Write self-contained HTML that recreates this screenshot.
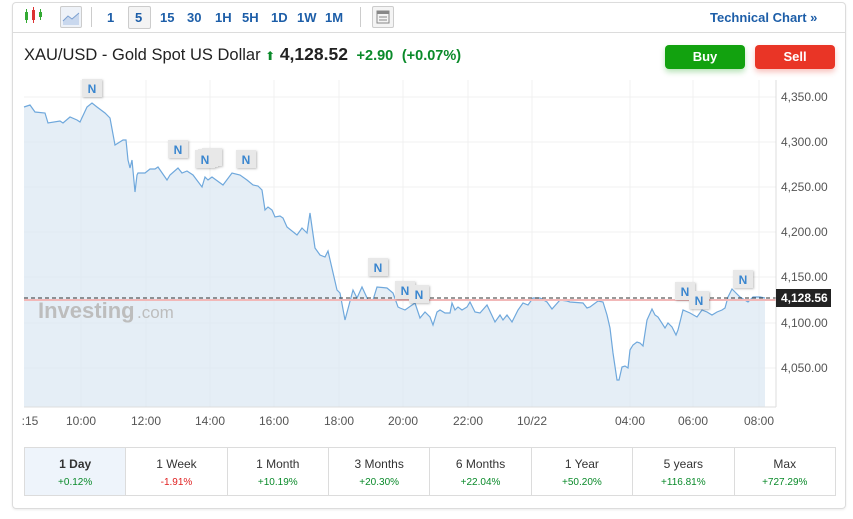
<!DOCTYPE html>
<html><head><meta charset="utf-8"><style>
body{margin:0;width:853px;height:519px;background:#fff;font-family:"Liberation Sans",sans-serif;position:relative;overflow:hidden}
.a{position:absolute}
.card{left:12px;top:2px;width:832px;height:505px;border:1px solid #dcdcdc;border-radius:4px;box-shadow:0 1px 2px rgba(0,0,0,.08)}
.tb{font-size:13px;font-weight:bold;color:#1d5ea8;top:10px}
.btn{top:45px;width:80px;height:24px;border-radius:4px;color:#fff;font-weight:bold;font-size:13px;text-align:center;line-height:24px}
table{border-collapse:collapse;position:absolute;left:24px;top:447px;width:812px;height:49px}
td{border:1px solid #dcdcdc;text-align:center;font-size:12px;color:#333;width:101px;padding:0}
td b{font-weight:normal;display:block;margin-top:2px}
td span{font-size:10px;display:block;margin-top:6px;color:#0a8a2a}
</style></head><body>
<div class="a card"></div>
<div class="a" style="left:12px;top:32px;width:833px;height:1px;background:#dcdcdc"></div>
<svg class="a" style="left:22px;top:7px" width="24" height="18"><rect x="3" y="5" width="3" height="8" fill="#3a3"/><line x1="4.5" y1="2" x2="4.5" y2="16" stroke="#3a3"/><rect x="10" y="3" width="3" height="10" fill="#d33"/><line x1="11.5" y1="0" x2="11.5" y2="16" stroke="#d33"/><rect x="17" y="5" width="3" height="5" fill="#3a3"/><line x1="18.5" y1="2" x2="18.5" y2="13" stroke="#3a3"/></svg>
<div class="a" style="left:60px;top:6px;width:20px;height:20px;border:1px solid #ccc;border-radius:2px;background:#eef2f8"><svg width="20" height="20"><path d="M2 14 L7 9 L11 12 L18 6 L18 18 L2 18Z" fill="#c9d8ee"/><path d="M2 14 L7 9 L11 12 L18 6" stroke="#7ca0d0" fill="none"/></svg></div>
<div class="a" style="left:91px;top:7px;width:1px;height:20px;background:#ccc"></div>
<div class="a tb" style="left:107px">1</div>
<div class="a" style="left:128px;top:6px;width:21px;height:21px;border:1px solid #ccc;border-radius:2px;background:#f4f4f4"></div>
<div class="a tb" style="left:135px">5</div>
<div class="a tb" style="left:160px">15</div>
<div class="a tb" style="left:187px">30</div>
<div class="a tb" style="left:215px">1H</div>
<div class="a tb" style="left:242px">5H</div>
<div class="a tb" style="left:271px">1D</div>
<div class="a tb" style="left:297px">1W</div>
<div class="a tb" style="left:325px">1M</div>
<div class="a" style="left:360px;top:7px;width:1px;height:20px;background:#ccc"></div>
<div class="a" style="left:372px;top:6px;width:20px;height:20px;border:1px solid #ccc;border-radius:2px;background:#f4f4f4"><svg width="20" height="20"><rect x="4" y="4" width="12" height="12" fill="none" stroke="#888"/><rect x="4" y="4" width="12" height="3" fill="#888"/><line x1="6" y1="10" x2="14" y2="10" stroke="#888"/><line x1="6" y1="13" x2="14" y2="13" stroke="#888"/></svg></div>
<div class="a tb" style="left:710px">Technical Chart »</div>
<div class="a" style="left:24px;top:44px;font-size:16.5px;color:#222;white-space:nowrap">XAU/USD - Gold Spot US Dollar <span style="color:#0a8a2a;font-size:12px">&#11014;</span> <b style="font-size:17.5px">4,128.52</b> <b style="color:#0a8a2a;font-size:14.5px;margin-left:4px">+2.90</b> <b style="color:#0a8a2a;font-size:14.5px;margin-left:4px">(+0.07%)</b></div>
<div class="a btn" style="left:665px;background:#12a20f;box-shadow:0 3px 6px rgba(18,162,15,.3)">Buy</div>
<div class="a btn" style="left:755px;background:#e93526;box-shadow:0 3px 6px rgba(233,53,38,.3)">Sell</div>
<svg class="a" style="left:0;top:0" width="853" height="440" font-family="Liberation Sans" font-size="12" fill="#555">
<g stroke="#f0f0f0">
<line x1="24" y1="97" x2="776" y2="97"/><line x1="24" y1="142" x2="776" y2="142"/><line x1="24" y1="187" x2="776" y2="187"/><line x1="24" y1="232" x2="776" y2="232"/><line x1="24" y1="277" x2="776" y2="277"/><line x1="24" y1="323" x2="776" y2="323"/><line x1="24" y1="368" x2="776" y2="368"/>
<line x1="81" y1="80" x2="81" y2="407"/><line x1="146" y1="80" x2="146" y2="407"/><line x1="210" y1="80" x2="210" y2="407"/><line x1="274" y1="80" x2="274" y2="407"/><line x1="339" y1="80" x2="339" y2="407"/><line x1="403" y1="80" x2="403" y2="407"/><line x1="468" y1="80" x2="468" y2="407"/><line x1="532" y1="80" x2="532" y2="407"/><line x1="630" y1="80" x2="630" y2="407"/><line x1="693" y1="80" x2="693" y2="407"/><line x1="759" y1="80" x2="759" y2="407"/>
</g>
<path d="M24,107 L30,105 L35,112 L45,113 L48,123 L60,121 L63,123 L70,117 L77,120 L80,122 L87,107 L92,103 L97,107 L105,113 L110,118 L115,145 L123,140 L126,140 L128,160 L130,168 L132,160 L135,192 L137,175 L138,173 L145,173 L150,169 L155,169 L158,167 L167,180 L170,175 L178,168 L182,173 L187,171 L193,175 L202,187 L205,177 L208,180 L212,177 L223,185 L232,173 L240,175 L247,180 L253,185 L258,186 L262,190 L265,210 L268,207 L272,210 L275,217 L280,216 L283,218 L287,227 L297,235 L302,228 L307,233 L310,213 L315,248 L320,255 L325,257 L328,251 L337,290 L340,293 L345,320 L353,290 L357,298 L362,287 L368,300 L373,300 L377,287 L387,288 L393,293 L398,307 L400,308 L405,310 L415,303 L420,318 L425,312 L430,317 L433,325 L437,312 L440,310 L445,313 L450,313 L452,303 L455,310 L458,307 L462,310 L467,307 L470,302 L475,312 L480,313 L487,305 L495,322 L500,315 L503,320 L507,315 L512,322 L518,310 L523,303 L528,305 L533,298 L540,298 L547,302 L552,309 L560,300 L567,301 L570,302 L583,303 L587,308 L590,307 L598,301 L603,302 L607,315 L610,328 L613,353 L617,380 L619,380 L622,367 L625,366 L628,368 L630,350 L633,345 L637,342 L640,343 L643,346 L647,320 L652,309 L655,315 L658,317 L665,328 L668,323 L672,327 L676,335 L678,330 L683,310 L690,313 L697,317 L702,310 L707,312 L712,315 L717,312 L722,310 L725,308 L728,297 L732,289 L735,292 L740,297 L748,302 L753,297 L760,297 L765,298 L765,407 L24,407Z" fill="#dce8f3" fill-opacity="0.75"/>
<text x="38" y="318" font-size="22" font-weight="bold" fill="#bdbdbd">Investing</text><text x="137" y="318" font-size="17" fill="#bdbdbd">.com</text>
<path d="M24,107 L30,105 L35,112 L45,113 L48,123 L60,121 L63,123 L70,117 L77,120 L80,122 L87,107 L92,103 L97,107 L105,113 L110,118 L115,145 L123,140 L126,140 L128,160 L130,168 L132,160 L135,192 L137,175 L138,173 L145,173 L150,169 L155,169 L158,167 L167,180 L170,175 L178,168 L182,173 L187,171 L193,175 L202,187 L205,177 L208,180 L212,177 L223,185 L232,173 L240,175 L247,180 L253,185 L258,186 L262,190 L265,210 L268,207 L272,210 L275,217 L280,216 L283,218 L287,227 L297,235 L302,228 L307,233 L310,213 L315,248 L320,255 L325,257 L328,251 L337,290 L340,293 L345,320 L353,290 L357,298 L362,287 L368,300 L373,300 L377,287 L387,288 L393,293 L398,307 L400,308 L405,310 L415,303 L420,318 L425,312 L430,317 L433,325 L437,312 L440,310 L445,313 L450,313 L452,303 L455,310 L458,307 L462,310 L467,307 L470,302 L475,312 L480,313 L487,305 L495,322 L500,315 L503,320 L507,315 L512,322 L518,310 L523,303 L528,305 L533,298 L540,298 L547,302 L552,309 L560,300 L567,301 L570,302 L583,303 L587,308 L590,307 L598,301 L603,302 L607,315 L610,328 L613,353 L617,380 L619,380 L622,367 L625,366 L628,368 L630,350 L633,345 L637,342 L640,343 L643,346 L647,320 L652,309 L655,315 L658,317 L665,328 L668,323 L672,327 L676,335 L678,330 L683,310 L690,313 L697,317 L702,310 L707,312 L712,315 L717,312 L722,310 L725,308 L728,297 L732,289 L735,292 L740,297 L748,302 L753,297 L760,297 L765,298" fill="none" stroke="#6fa8dc" stroke-width="1.2"/>
<line x1="24" y1="300" x2="776" y2="300" stroke="#f2b8b8" stroke-width="2"/>
<line x1="24" y1="298" x2="776" y2="298" stroke="#333" stroke-dasharray="4,3"/>
<line x1="776" y1="80" x2="776" y2="407" stroke="#ddd"/>
<line x1="24" y1="407" x2="776" y2="407" stroke="#ddd"/>
<g text-anchor="start">
<text x="781" y="101">4,350.00</text><text x="781" y="146">4,300.00</text><text x="781" y="191">4,250.00</text><text x="781" y="236">4,200.00</text><text x="781" y="281">4,150.00</text><text x="781" y="327">4,100.00</text><text x="781" y="372">4,050.00</text>
</g>
<rect x="776" y="289" width="55" height="18" fill="#222"/><text x="781" y="302" fill="#fff" font-weight="bold">4,128.56</text>
<g text-anchor="middle">
<text x="30" y="425">:15</text><text x="81" y="425">10:00</text><text x="146" y="425">12:00</text><text x="210" y="425">14:00</text><text x="274" y="425">16:00</text><text x="339" y="425">18:00</text><text x="403" y="425">20:00</text><text x="468" y="425">22:00</text><text x="532" y="425">10/22</text><text x="630" y="425">04:00</text><text x="693" y="425">06:00</text><text x="759" y="425">08:00</text>
</g>
<g font-weight="bold" font-size="12" fill="#3a86cf" text-anchor="middle">
<g style="filter:drop-shadow(1px 1px 1px rgba(0,0,0,.25))" fill="#e8e8e8">
<rect x="82" y="79" width="20" height="18"/><rect x="168" y="140" width="20" height="18"/><rect x="202" y="148" width="20" height="18"/><rect x="198" y="149" width="20" height="18"/><rect x="195" y="150" width="20" height="18"/><rect x="236" y="150" width="20" height="18"/><rect x="368" y="258" width="20" height="18"/><rect x="395" y="281" width="20" height="18"/><rect x="409" y="285" width="20" height="18"/><rect x="675" y="282" width="20" height="18"/><rect x="689" y="291" width="20" height="18"/><rect x="733" y="270" width="20" height="18"/>
</g>
<text x="92" y="93">N</text><text x="178" y="154">N</text><text x="205" y="164">N</text><text x="246" y="164">N</text><text x="378" y="272">N</text><text x="405" y="295">N</text><text x="419" y="299">N</text><text x="685" y="296">N</text><text x="699" y="305">N</text><text x="743" y="284">N</text>
</g>
</svg>
<table><tr>
<td style="background:#eef4fb"><b style="font-weight:bold">1 Day</b><span>+0.12%</span></td>
<td><b>1 Week</b><span style="color:#e02020">-1.91%</span></td>
<td><b>1 Month</b><span>+10.19%</span></td>
<td><b>3 Months</b><span>+20.30%</span></td>
<td><b>6 Months</b><span>+22.04%</span></td>
<td><b>1 Year</b><span>+50.20%</span></td>
<td><b>5 years</b><span>+116.81%</span></td>
<td><b>Max</b><span>+727.29%</span></td>
</tr></table>
</body></html>
